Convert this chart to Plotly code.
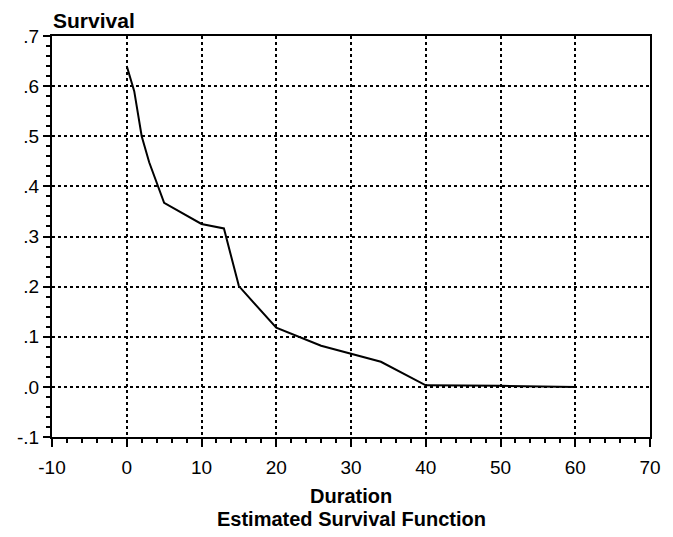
import plotly.graph_objects as go

duration = [0, 1, 2, 3, 5, 10, 13, 15, 20, 26, 34, 40, 50, 60]
survival = [0.640, 0.590, 0.500, 0.448, 0.367, 0.325, 0.316, 0.201, 0.118, 0.082, 0.050, 0.003, 0.002, 0.000]

x_ticks = [-10, 0, 10, 20, 30, 40, 50, 60, 70]
y_ticks = [-0.1, 0.0, 0.1, 0.2, 0.3, 0.4, 0.5, 0.6, 0.7]
y_ticklabels = ["-.1", ".0", ".1", ".2", ".3", ".4", ".5", ".6", ".7"]

FONT = "Liberation Sans, Arial, sans-serif"

fig = go.Figure()
fig.add_trace(go.Scatter(x=duration, y=survival, mode="lines",
                         line=dict(color="black", width=2), showlegend=False))

fig.update_layout(
    width=673, height=537,
    margin=dict(l=52, r=16, t=36, b=100),
    paper_bgcolor="white", plot_bgcolor="white",
    font=dict(family=FONT, size=19, color="black"),
    xaxis=dict(
        range=[-10, 70], tickvals=x_ticks, ticktext=[str(v) for v in x_ticks],
        showline=True, linecolor="black", linewidth=2, mirror=True,
        ticks="outside", ticklen=8, tickwidth=2, tickcolor="black",
        ticklabelstandoff=4,
        minor=dict(dtick=2, tick0=0, ticks="outside", ticklen=4, tickwidth=1.5, tickcolor="black", showgrid=False),
        showgrid=True, gridcolor="black", gridwidth=1.5, griddash="dot",
        zeroline=False,
    ),
    yaxis=dict(
        range=[-0.1, 0.7], tickvals=y_ticks, ticktext=y_ticklabels,
        showline=True, linecolor="black", linewidth=2, mirror=True,
        ticks="outside", ticklen=7, tickwidth=2, tickcolor="black",
        minor=dict(dtick=0.02, tick0=0, ticks="outside", ticklen=4, tickwidth=1.5, tickcolor="black", showgrid=False),
        showgrid=True, gridcolor="black", gridwidth=1.5, griddash="dot",
        zeroline=False,
    ),
    annotations=[
        dict(text="<b>Survival</b>", x=0, y=1, xref="paper", yref="paper",
             xanchor="left", yanchor="middle", xshift=-1, yshift=16, showarrow=False,
             font=dict(size=21)),
        dict(text="<b>Duration</b>", x=0.5, y=0, xref="paper", yref="paper",
             xanchor="center", yanchor="middle", yshift=-59, showarrow=False,
             font=dict(size=20)),
        dict(text="<b>Estimated Survival Function</b>", x=0.5, y=0, xref="paper", yref="paper",
             xanchor="center", yanchor="middle", yshift=-82, showarrow=False,
             font=dict(size=20)),
    ],
)

fig.write_html("out.html")
